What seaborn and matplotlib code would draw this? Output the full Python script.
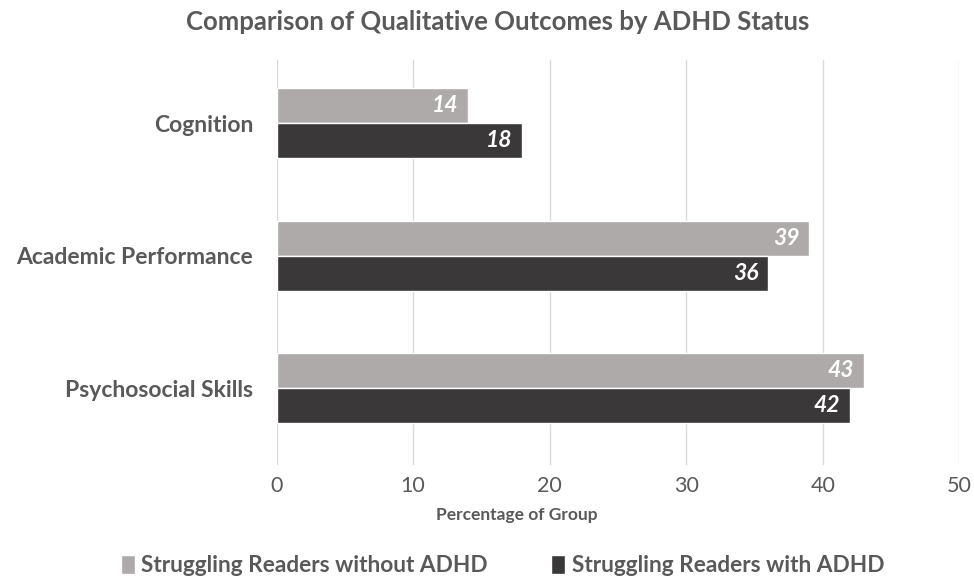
import numpy as np
import pandas as pd
import matplotlib
matplotlib.use("Agg")
import matplotlib.pyplot as plt
import seaborn as sns

categories = ["Cognition", "Academic Performance", "Psychosocial Skills"]
series_names = ["Struggling Readers without ADHD", "Struggling Readers with ADHD"]
without_adhd = [14, 39, 43]
with_adhd = [18, 36, 42]
colors = ["#AEAAAA", "#3A3838"]

df = pd.DataFrame({
    "category": categories * 2,
    "group": [series_names[0]] * 3 + [series_names[1]] * 3,
    "value": without_adhd + with_adhd,
})

sns.set_theme(style="white")
plt.rcParams["font.family"] = ["Lato", "DejaVu Sans"]
text_color = "#595959"

fig = plt.figure(figsize=(9.74, 5.79), dpi=100)
ax = fig.add_axes([0.284, 0.197, 0.701, 0.699])

sns.barplot(data=df, y="category", x="value", hue="group", order=categories,
            hue_order=series_names, palette=colors, orient="h", width=0.53,
            saturation=1, ax=ax, legend=True)

# value labels, right aligned just inside the bar end
for container in ax.containers:
    anns = ax.bar_label(container, labels=[f"{int(v)}" for v in container.datavalues],
                        padding=-7, color="white", fontsize=16.5, fontweight="bold",
                        fontstyle="italic")
    for a in anns:
        a.set_ha("right")

ax.set_xlim(0, 50)
ax.set_ylim(2.58, -0.475)
ax.set_xticks(np.arange(0, 51, 10))
ax.xaxis.grid(True, color="#D9D9D9", linewidth=1)
ax.set_axisbelow(True)
for s in ax.spines.values():
    s.set_visible(False)
ax.tick_params(axis="x", length=0, pad=8, labelsize=15.5, labelcolor=text_color)
ax.tick_params(axis="y", length=0, pad=17, labelsize=16.5, labelcolor=text_color)
for lbl in ax.get_yticklabels():
    lbl.set_fontweight("bold")
ax.set_ylabel("")
ax.set_xlabel("")

fig.text(517 / 974, 1 - 515 / 579, "Percentage of Group", ha="center", va="center",
         fontsize=12.5, fontweight="bold", color=text_color)

fig.text(0.511, 0.962, "Comparison of Qualitative Outcomes by ADHD Status",
         ha="center", va="center", fontsize=18.5, fontweight="bold", color=text_color)

handles, labels = ax.get_legend_handles_labels()
ax.get_legend().remove()
fig.legend(handles, labels, loc="center", bbox_to_anchor=(0.516, 0.023), ncol=2,
           frameon=False, handlelength=0.6, handleheight=0.9,
           handletextpad=0.3, columnspacing=2.8,
           prop={"weight": "bold", "size": 16.3})
for t in fig.legends[0].get_texts():
    t.set_color(text_color)

fig.savefig("out.png", dpi=100, facecolor="white")
